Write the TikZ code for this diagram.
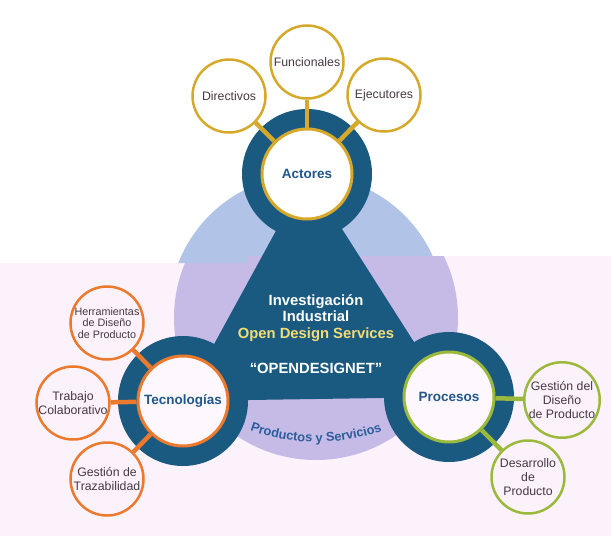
\documentclass[tikz,border=0pt]{standalone}
\usepackage{fontspec}
\setmainfont{Liberation Sans}
\usetikzlibrary{decorations.text}

\definecolor{navy}{HTML}{1B5A80}
\definecolor{gold}{HTML}{D6A92B}
\definecolor{naranja}{HTML}{EC7A2E}
\definecolor{verde}{HTML}{9BBA3C}
\definecolor{celeste}{HTML}{B1C3E6}
\definecolor{lila}{HTML}{C6BBE7}
\definecolor{rosa}{HTML}{FCF2FC}
\definecolor{rosaclaro}{HTML}{FEF8FE}
\definecolor{amarillo}{HTML}{F0DC78}
\definecolor{texto}{HTML}{463A42}
\definecolor{azul}{HTML}{22578A}
\definecolor{azulprod}{HTML}{2B5E9C}

\begin{document}
\begin{tikzpicture}[x=1pt,y=-1pt,
    hub/.style={circle, draw=#1, line width=3pt, fill=white, minimum size=90pt, inner sep=0pt,
        text=azul, font=\bfseries\fontsize{13.5}{15}\selectfont},
    sat/.style={circle, draw=#1, line width=2.5pt, fill=white, minimum size=73pt, inner sep=0pt,
        align=center, text=texto, font=\fontsize{12.3}{13.6}\selectfont},
    link/.style={draw=#1, line width=4.5pt},
    centro/.style={text=white, font=\bfseries\fontsize{14.8}{16.5}\selectfont}]

\useasboundingbox (0,0) rectangle (611,536);

% ===== Fondo =====
\fill[rosa] (0,263) rectangle (611,536);
\fill[rosa] (248,256) rectangle (611,263);

% ===== Circulo grande =====
\begin{scope}
    \clip (0,0) -- (611,0) -- (611,256) -- (248,256) -- (248,263) -- (0,263) -- cycle;
    \fill[celeste] (307,313) circle (138);
\end{scope}
\begin{scope}
    \clip (0,263) -- (248,263) -- (248,256) -- (611,256) -- (611,536) -- (0,536) -- cycle;
    \fill[lila] (316,318) circle (142);
\end{scope}

% ===== Triangulo y anillos =====
\coordinate (cAct) at (307,174);
\coordinate (cTec) at (183,401);
\coordinate (cPro) at (449,397);

\fill[navy] (cAct) -- (cTec) -- (cPro) -- cycle;
\foreach \c in {cAct,cTec,cPro} {
    \fill[navy] (\c) circle (65);
}

% ===== Texto central =====
\node[centro, align=center] (inv) at (316,318)
    {Investigación\\Industrial\\\textcolor{amarillo}{Open Design Services}};
\node[centro] (odn) at (316,368) {“OPENDESIGNET”};

\path[decorate, decoration={text along path, text align=center,
    text={|\bfseries\fontsize{12.8}{14}\selectfont\color{azulprod}|Productos y Servicios}}]
    (231.5,423.3) arc[start angle=115, end angle=65, radius=200];

% ===== Nodos =====
\node[hub=gold] (act) at (cAct) {Actores};
\node[hub=naranja, fill=rosaclaro] (tec) at (cTec) {Tecnologías};
\node[hub=verde, fill=rosaclaro] (pro) at (cPro) {Procesos};

\node[sat=gold] (dir) at (229,96) {Directivos};
\node[sat=gold] (fun) at (307,62) {Funcionales};
\node[sat=gold] (eje) at (384,95) {Ejecutores};

\node[sat=naranja, fill=rosa, font=\fontsize{10.8}{11.4}\selectfont] (her) at (107,323)
    {Herramientas\\de Diseño\\de Producto};
\node[sat=naranja, fill=rosa] (tra) at (73,403) {Trabajo\\Colaborativo};
\node[sat=naranja, fill=rosa] (ges) at (107,479) {Gestión de\\Trazabilidad};

\node[sat=verde, fill=rosa] (gdp) at (562,400) {Gestión del\\Diseño\\de Producto};
\node[sat=verde, fill=rosa] (des) at (528,477) {Desarrollo\\de\\Producto};

% ===== Conectores =====
\foreach \s in {dir,fun,eje} {
    \draw[link=gold] (act) -- (\s);
}
\foreach \s in {her,tra,ges} {
    \draw[link=naranja] (tec) -- (\s);
}
\foreach \s in {gdp,des} {
    \draw[link=verde] (pro) -- (\s);
}

\end{tikzpicture}
\end{document}
